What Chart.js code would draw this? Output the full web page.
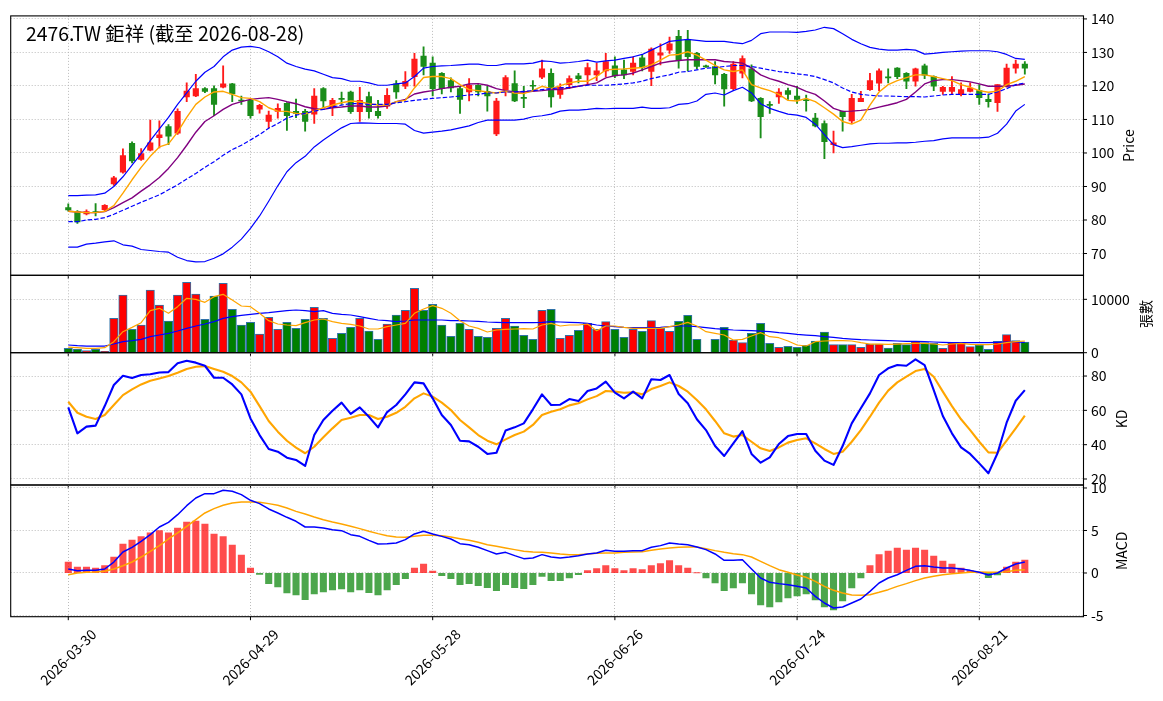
<!DOCTYPE html>
<html>
<head>
<meta charset="utf-8">
<title>2476.TW 鉅祥</title>
<script src="https://cdn.jsdelivr.net/npm/chart.js@4.4.1/dist/chart.umd.min.js"></script>
<style>
  html, body { margin: 0; padding: 0; background: #fff; }
  #wrap { position: relative; width: 1163px; height: 701px; overflow: hidden; }
  #wrap canvas { position: absolute; left: 0; top: 0; }
</style>
</head>
<body>
<div id="wrap">
  <canvas id="price-chart" width="1163" height="701"></canvas>
  <canvas id="volume-chart" width="1163" height="701"></canvas>
  <canvas id="kd-chart" width="1163" height="701"></canvas>
  <canvas id="macd-chart" width="1163" height="701"></canvas>
</div>
<script>
// x axis: one slot per trading day, labels every 20 bars
const tickIdx = [0, 20, 40, 60, 80, 100];
const tickLabels = ["2026-03-30", "2026-04-29", "2026-05-28", "2026-06-26", "2026-07-24", "2026-08-21"];

const openP = [83.7, 82.5, 81.8, 82.5, 83.1, 90.8, 94.3, 102.9, 98.1, 100.8,
  104.6, 107.9, 105.9, 116.7, 117.0, 119.2, 119.2, 119.6, 120.6, 115.8,
  115.7, 113.1, 109.4, 112.4, 114.8, 112.4, 112.4, 111.6, 119.2, 113.8,
  116.3, 118.2, 112.3, 116.8, 112.4, 114.0, 120.6, 119.9, 122.8, 128.9,
  126.8, 123.8, 121.6, 119.2, 118.2, 120.2, 118.4, 105.7, 118.9, 120.7,
  116.6, 120.1, 122.6, 123.8, 117.5, 120.4, 123.0, 123.3, 123.3, 124.5,
  126.0, 124.8, 124.3, 128.4, 124.3, 129.2, 130.7, 134.8, 133.9, 129.7,
  125.9, 125.8, 123.5, 119.2, 123.8, 125.1, 116.3, 114.4, 116.7, 118.6,
  117.0, 115.8, 110.4, 108.8, 102.5, 112.4, 109.6, 115.3, 118.9, 120.8,
  122.6, 125.3, 123.8, 121.4, 126.0, 122.8, 118.4, 118.4, 117.5, 118.4,
  118.6, 116.0, 115.0, 119.9, 125.3, 126.5];
const highP = [84.8, 82.8, 83.0, 84.9, 84.6, 93.0, 101.2, 103.3, 101.3, 109.8,
  109.6, 108.5, 113.2, 120.9, 123.5, 119.5, 120.0, 126.0, 120.8, 117.0,
  116.0, 114.5, 112.5, 114.7, 115.0, 116.1, 113.0, 119.2, 119.5, 116.3,
  118.2, 118.5, 119.6, 118.2, 115.7, 119.2, 121.6, 124.3, 129.7, 131.7,
  128.7, 124.0, 122.4, 119.9, 122.2, 120.4, 119.9, 116.3, 123.1, 124.5,
  119.9, 121.6, 127.7, 125.1, 120.6, 123.0, 123.8, 126.8, 126.8, 129.7,
  128.7, 127.7, 128.7, 129.4, 131.4, 132.6, 134.6, 136.6, 136.6, 130.0,
  126.2, 127.3, 123.8, 127.3, 129.0, 126.3, 116.5, 115.3, 119.2, 119.4,
  119.9, 117.3, 111.8, 109.6, 106.5, 112.5, 117.5, 118.4, 123.8, 125.1,
  125.1, 125.5, 124.0, 125.3, 126.5, 123.0, 119.9, 122.8, 120.9, 120.9,
  120.4, 117.6, 120.4, 126.5, 127.7, 127.3];
const lowP = [82.6, 79.0, 81.5, 81.2, 82.8, 90.3, 94.0, 97.0, 97.8, 100.6,
  101.5, 102.5, 105.5, 115.3, 116.8, 118.0, 111.1, 119.4, 115.3, 114.5,
  110.4, 111.9, 107.5, 110.4, 106.7, 110.5, 106.5, 108.8, 113.5, 111.1,
  114.5, 111.8, 109.4, 110.4, 110.4, 113.3, 116.3, 119.2, 119.9, 123.3,
  117.0, 117.6, 118.2, 111.8, 115.5, 117.0, 112.5, 105.2, 117.0, 115.3,
  113.5, 118.4, 122.2, 113.7, 116.3, 119.2, 120.9, 120.4, 121.6, 122.8,
  122.5, 122.2, 123.3, 124.5, 120.1, 126.3, 129.7, 125.3, 124.5, 125.1,
  125.5, 120.6, 114.0, 118.8, 122.4, 115.3, 104.5, 111.8, 114.8, 116.0,
  114.8, 112.5, 107.8, 98.3, 100.0, 106.5, 108.8, 115.3, 118.7, 118.6,
  120.9, 122.2, 119.2, 119.9, 122.2, 118.6, 117.5, 117.5, 117.0, 118.2,
  114.5, 113.7, 112.4, 119.6, 123.8, 123.5];
const closeP = [83.0, 79.4, 82.5, 82.2, 84.4, 92.6, 99.2, 97.6, 99.8, 103.0,
  105.4, 105.0, 112.4, 118.5, 119.2, 118.4, 114.5, 120.6, 117.6, 115.5,
  111.1, 114.2, 111.3, 113.3, 111.1, 111.8, 109.4, 117.0, 115.5, 115.7,
  116.0, 112.3, 115.7, 112.3, 111.1, 117.2, 118.2, 121.4, 128.0, 125.8,
  119.2, 119.2, 119.4, 116.0, 120.2, 118.2, 117.0, 115.5, 122.5, 115.5,
  116.3, 119.9, 125.1, 116.7, 119.6, 122.2, 122.2, 125.5, 124.5, 127.3,
  123.0, 123.3, 126.8, 125.5, 131.0, 129.9, 132.6, 127.7, 128.7, 125.8,
  125.7, 123.3, 119.1, 126.5, 128.2, 115.5, 110.8, 114.2, 118.2, 117.5,
  116.0, 115.6, 108.1, 103.4, 103.0, 110.8, 116.3, 116.3, 121.6, 124.5,
  122.4, 122.8, 121.4, 125.1, 123.2, 119.9, 119.6, 119.6, 118.9, 119.4,
  116.5, 115.3, 120.4, 125.3, 126.5, 125.3];

const ma5 = [82.6, 82.4, 82.2, 82.2, 82.6, 84.3, 88.0, 92.0, 95.7, 99.0,
  101.8, 102.7, 106.2, 110.6, 114.5, 116.7, 118.2, 118.4, 117.5, 116.5,
  116.3, 115.3, 113.5, 112.5, 112.4, 111.8, 111.7, 112.5, 113.5, 114.3,
  115.0, 115.5, 115.3, 114.7, 114.3, 114.3, 115.3, 115.7, 119.4, 122.5,
  122.8, 122.8, 122.2, 120.4, 118.9, 118.6, 118.2, 117.9, 118.4, 117.9,
  117.7, 118.6, 119.9, 119.2, 120.1, 120.9, 121.4, 121.4, 122.8, 124.8,
  125.0, 125.1, 125.3, 125.5, 126.3, 127.7, 129.2, 129.4, 130.2, 129.2,
  127.7, 126.1, 124.8, 124.3, 124.8, 120.4, 119.4, 118.6, 117.5, 115.7,
  115.5, 116.3, 115.3, 113.5, 111.6, 109.4, 108.6, 109.8, 114.3, 118.2,
  120.4, 121.6, 122.5, 123.3, 123.3, 122.8, 122.2, 121.6, 120.4, 119.6,
  118.6, 118.1, 118.4, 120.4, 121.4, 122.8];
const ma10 = [82.6, 82.4, 82.2, 82.2, 82.5, 83.7, 85.2, 86.6, 88.6, 90.5,
  92.7, 95.4, 98.6, 102.3, 106.2, 109.4, 111.1, 113.0, 114.5, 115.3,
  116.0, 116.3, 116.5, 116.0, 115.3, 114.7, 113.8, 113.2, 113.0, 113.5,
  113.7, 114.0, 114.0, 113.7, 113.7, 114.0, 115.3, 116.0, 117.6, 118.2,
  118.6, 119.2, 119.6, 119.9, 120.6, 120.7, 120.2, 119.2, 118.6, 118.2,
  118.2, 118.4, 118.6, 118.9, 118.9, 119.4, 119.9, 120.4, 120.9, 122.4,
  123.1, 123.3, 123.8, 124.8, 125.8, 126.8, 127.3, 127.6, 127.8, 127.8,
  127.8, 127.8, 127.3, 127.1, 126.8, 125.3, 123.3, 122.2, 121.4, 120.4,
  119.6, 118.4, 117.5, 115.5, 113.3, 112.4, 112.5, 112.7, 113.0, 113.7,
  114.3, 115.0, 116.0, 118.2, 120.6, 121.6, 121.9, 121.9, 121.6, 121.2,
  120.6, 119.9, 119.9, 119.9, 120.2, 120.6];
const bbUpper = [87.3, 87.3, 87.4, 87.5, 88.0, 90.0, 92.9, 96.4, 99.8, 103.7,
  107.2, 110.6, 114.5, 117.9, 121.4, 124.1, 125.8, 128.7, 130.7, 131.6,
  131.8, 131.4, 130.2, 128.7, 126.8, 125.8, 125.0, 124.5, 123.5, 122.5,
  122.2, 121.4, 121.4, 120.9, 120.2, 120.2, 120.6, 120.9, 122.8, 125.3,
  125.8, 126.0, 126.1, 126.3, 126.5, 126.5, 126.1, 126.1, 126.6, 126.6,
  126.6, 126.8, 127.5, 127.3, 126.8, 127.0, 127.3, 127.7, 127.1, 127.5,
  127.7, 128.2, 128.7, 129.4, 130.7, 132.0, 133.3, 133.6, 133.9, 133.6,
  133.3, 133.3, 133.3, 132.9, 132.6, 133.6, 135.6, 136.1, 136.1, 136.1,
  136.0, 136.3, 136.7, 137.5, 137.1, 135.6, 133.9, 132.6, 131.5, 131.0,
  130.7, 130.7, 130.9, 130.7, 129.5, 129.7, 130.0, 130.2, 130.4, 130.5,
  130.5, 130.5, 130.2, 129.4, 128.2, 127.9];
const bbMid = [79.5, 79.5, 80.0, 80.2, 80.7, 81.7, 82.9, 84.1, 85.3, 86.4,
  87.5, 89.0, 90.5, 92.2, 93.9, 95.7, 97.4, 99.3, 101.0, 102.3,
  103.9, 105.5, 107.4, 108.8, 110.4, 111.3, 111.8, 112.5, 113.0, 113.7,
  114.3, 114.7, 114.7, 114.5, 114.5, 114.5, 115.0, 115.3, 115.7, 116.0,
  116.3, 116.5, 116.7, 117.0, 117.3, 117.5, 117.9, 117.9, 118.2, 118.2,
  118.4, 118.6, 118.9, 119.2, 119.4, 119.6, 119.9, 120.2, 120.2, 120.2,
  120.4, 120.6, 120.9, 121.4, 122.2, 122.8, 123.3, 124.1, 124.3, 124.8,
  125.3, 125.5, 125.8, 126.1, 126.1, 125.8, 125.3, 124.8, 124.3, 124.0,
  123.6, 123.3, 122.8, 121.9, 120.9, 119.4, 118.2, 117.5, 117.2, 117.0,
  117.0, 116.9, 116.8, 116.8, 116.7, 117.0, 117.3, 117.5, 117.5, 117.5,
  117.5, 117.5, 118.2, 119.2, 120.4, 120.9];
const bbLower = [71.9, 71.9, 72.8, 73.1, 73.5, 73.8, 72.6, 72.2, 71.2, 70.9,
  70.6, 70.4, 68.9, 67.9, 67.5, 67.6, 68.6, 69.9, 71.9, 74.3,
  77.5, 81.2, 85.6, 90.2, 94.4, 97.1, 99.0, 101.8, 103.9, 105.7,
  107.5, 108.8, 109.0, 108.9, 108.8, 108.8, 108.8, 108.6, 106.7, 105.9,
  106.2, 106.5, 106.9, 107.5, 108.1, 109.1, 109.8, 109.8, 109.8, 109.8,
  110.1, 110.8, 111.1, 111.6, 112.5, 112.8, 112.8, 113.0, 113.3, 113.2,
  113.3, 113.3, 113.3, 113.7, 113.3, 113.3, 113.5, 114.5, 114.7, 115.5,
  117.5, 117.9, 117.3, 118.6, 119.6, 117.9, 114.7, 113.3, 112.4, 111.6,
  111.3, 110.6, 108.6, 105.5, 102.5, 101.6, 101.9, 102.3, 102.7, 102.9,
  102.9, 103.0, 103.0, 103.2, 103.5, 103.7, 104.2, 104.5, 104.5, 104.5,
  104.5, 104.7, 105.9, 108.6, 112.5, 114.5];

const volume = [810, 690, 375, 625, 250, 6440, 10810, 4375, 5190, 11750,
  8940, 5940, 10810, 13190, 11000, 6250, 10625, 13000, 8125, 5190,
  5690, 3500, 6625, 4375, 5690, 4560, 6250, 8500, 6440, 2690,
  3625, 4750, 6440, 4060, 2500, 5375, 7060, 7940, 12060, 7940,
  9060, 5190, 3060, 5500, 4375, 3060, 2875, 4560, 6440, 5000,
  3250, 2500, 7940, 8125, 2690, 3250, 4190, 5500, 4375, 5810,
  4375, 2875, 4375, 4000, 6000, 4560, 4000, 5875, 7000, 2500,
  0, 2500, 4750, 2375, 1875, 3625, 5500, 1750, 1000, 1190,
  1000, 1375, 2190, 3875, 1500, 1500, 1500, 1000, 1625, 1625,
  875, 1750, 1500, 2060, 1875, 1750, 810, 1875, 1875, 1125,
  1440, 625, 2125, 3375, 2250, 2000];
const volMa5 = [1060, 940, 810, 810, 940, 2060, 3940, 4750, 5625, 7875,
  8310, 7375, 8625, 10190, 10000, 9440, 10500, 10940, 9875, 8750,
  8625, 7375, 6000, 5375, 5190, 5060, 5625, 6125, 6310, 5810,
  5500, 5310, 5000, 4440, 4440, 4875, 5190, 5500, 7375, 8190,
  8810, 8310, 7375, 6000, 5000, 4560, 3875, 4250, 4375, 4440,
  4500, 4440, 5190, 5500, 5000, 5190, 5190, 5375, 4125, 5000,
  5000, 4750, 4560, 4560, 4560, 4560, 4875, 5190, 5690, 5000,
  3940, 3625, 3310, 2375, 2500, 3125, 3750, 3000, 2810, 2190,
  1440, 1250, 2060, 2190, 2250, 2250, 2190, 1875, 1625, 1625,
  1560, 1625, 1690, 1750, 1750, 1625, 1440, 1625, 1750, 1560,
  1500, 1500, 1625, 1875, 2060, 2190];
const volMa20 = [1440, 1310, 1250, 1250, 1250, 1625, 2060, 2250, 2500, 3000,
  3310, 3625, 4060, 4560, 5000, 5375, 5810, 6440, 6750, 7000,
  7190, 7375, 7500, 7690, 7875, 8000, 7875, 7690, 7875, 7375,
  7190, 7060, 6750, 6440, 6125, 6000, 5810, 5940, 6125, 6125,
  6125, 6125, 6000, 6000, 5940, 5875, 5750, 5690, 5625, 5625,
  5625, 5625, 5690, 5810, 5750, 5690, 5625, 5500, 5190, 5000,
  4875, 4750, 4690, 4690, 4690, 4750, 4875, 5000, 5000, 4875,
  4690, 4500, 4375, 4250, 4190, 4125, 4060, 3940, 3750, 3625,
  3440, 3310, 3190, 3000, 2875, 2690, 2560, 2440, 2375, 2310,
  2250, 2190, 2125, 2125, 2060, 2000, 1940, 1875, 1875, 1875,
  1875, 1875, 1940, 2000, 2000, 1940];

const kLine = [61.7, 46.6, 50.5, 51.1, 62.5, 74.8, 80.2, 78.8, 80.6, 81.0,
  82.1, 82.3, 87.4, 88.9, 87.8, 86.0, 79.0, 79.0, 75.1, 69.3,
  55.3, 45.6, 37.5, 35.9, 32.4, 31.1, 27.6, 45.6, 54.4, 59.8,
  64.5, 57.9, 61.7, 56.3, 50.1, 59.0, 63.1, 69.3, 76.3, 75.7,
  67.0, 57.3, 51.5, 42.3, 41.9, 38.8, 34.6, 35.3, 48.2, 50.1,
  52.4, 60.6, 69.3, 63.1, 63.3, 66.6, 65.4, 71.3, 72.8, 76.7,
  70.3, 67.0, 70.9, 67.0, 78.1, 77.7, 80.6, 69.5, 64.1, 54.8,
  48.5, 39.2, 33.4, 40.8, 47.9, 34.6, 29.5, 32.6, 40.4, 45.0,
  46.2, 46.2, 36.5, 30.7, 28.2, 39.2, 52.4, 61.2, 69.9, 80.6,
  84.5, 86.4, 86.0, 89.7, 86.4, 71.8, 56.7, 46.6, 38.4, 34.6,
  29.1, 23.3, 35.0, 52.8, 65.6, 71.8];
const dLine = [65.0, 58.6, 56.3, 55.0, 57.3, 63.1, 68.9, 72.2, 75.1, 77.3,
  78.6, 80.0, 81.9, 84.1, 85.4, 85.8, 84.1, 82.5, 80.0, 76.3,
  70.9, 62.5, 53.8, 47.6, 42.3, 38.3, 35.0, 38.8, 44.3, 49.5,
  54.4, 55.7, 57.3, 57.3, 55.0, 56.3, 58.6, 62.1, 67.0, 69.9,
  68.0, 64.5, 60.2, 54.4, 50.1, 45.6, 42.3, 40.2, 43.1, 45.6,
  47.6, 51.5, 57.3, 59.2, 60.6, 62.9, 64.1, 66.4, 68.3, 71.3,
  70.9, 70.3, 70.5, 69.3, 72.4, 74.2, 76.3, 74.2, 70.9, 66.0,
  60.6, 53.8, 46.6, 44.7, 45.6, 41.7, 37.9, 36.3, 38.4, 41.2,
  42.7, 43.7, 40.8, 37.5, 34.6, 35.9, 41.7, 48.5, 56.3, 64.5,
  71.5, 76.3, 79.6, 82.9, 84.1, 79.6, 70.9, 62.5, 54.8, 48.5,
  41.7, 35.5, 35.3, 42.3, 49.5, 56.9];

const dif = [0.47, 0.27, 0.31, 0.31, 0.47, 1.29, 2.47, 3.02, 3.73, 4.51,
  5.41, 5.96, 6.86, 7.92, 8.82, 9.33, 9.33, 9.73, 9.61, 9.22,
  8.55, 8.16, 7.53, 7.06, 6.55, 6.08, 5.41, 5.41, 5.29, 5.10,
  4.98, 4.51, 4.31, 3.84, 3.41, 3.45, 3.53, 3.92, 4.59, 4.90,
  4.59, 4.31, 4.00, 3.45, 3.33, 3.02, 2.63, 2.24, 2.43, 2.04,
  1.69, 1.76, 2.16, 1.88, 1.76, 1.88, 2.04, 2.24, 2.35, 2.67,
  2.55, 2.55, 2.63, 2.63, 3.02, 3.22, 3.53, 3.41, 3.33, 3.06,
  2.75, 2.24, 1.49, 1.49, 1.57, 0.47, -0.59, -1.10, -1.25, -1.37,
  -1.57, -1.76, -2.75, -3.53, -4.12, -4.00, -3.53, -3.06, -2.16, -1.18,
  -0.59, -0.20, 0.31, 0.78, 0.86, 0.71, 0.59, 0.59, 0.47, 0.31,
  0.08, -0.24, 0.00, 0.59, 1.06, 1.29];
const dea = [-0.20, 0.00, 0.08, 0.12, 0.20, 0.47, 0.86, 1.29, 1.88, 2.55,
  3.22, 4.00, 4.71, 5.49, 6.27, 7.06, 7.57, 7.96, 8.24, 8.35,
  8.35, 8.31, 8.16, 7.96, 7.65, 7.25, 6.94, 6.59, 6.27, 6.00,
  5.76, 5.49, 5.22, 4.90, 4.63, 4.39, 4.24, 4.20, 4.31, 4.43,
  4.43, 4.39, 4.24, 4.04, 3.84, 3.61, 3.33, 3.14, 2.94, 2.75,
  2.55, 2.47, 2.43, 2.35, 2.24, 2.16, 2.16, 2.24, 2.31, 2.35,
  2.35, 2.43, 2.47, 2.51, 2.67, 2.82, 2.94, 3.02, 3.06, 3.06,
  2.86, 2.63, 2.43, 2.27, 2.16, 1.88, 1.37, 0.86, 0.39, 0.08,
  -0.24, -0.51, -0.98, -1.57, -2.04, -2.35, -2.59, -2.63, -2.55, -2.27,
  -1.96, -1.57, -1.25, -0.90, -0.59, -0.39, -0.20, -0.08, 0.00, 0.08,
  0.12, 0.08, 0.08, 0.16, 0.31, 0.39];
const macdHist = [1.29, 0.71, 0.71, 0.59, 0.86, 1.88, 3.41, 3.88, 4.27, 4.71,
  4.98, 4.71, 5.29, 6.00, 6.12, 5.76, 4.59, 4.27, 3.29, 2.12,
  0.59, -0.16, -1.25, -1.65, -2.35, -2.59, -3.14, -2.47, -2.24, -2.00,
  -1.88, -2.24, -2.00, -2.31, -2.59, -2.00, -1.37, -0.67, 0.59, 1.06,
  0.24, -0.31, -0.67, -1.37, -1.25, -1.49, -1.73, -2.08, -1.37, -1.73,
  -1.84, -1.37, -0.39, -0.90, -0.90, -0.57, -0.20, 0.27, 0.51, 0.86,
  0.51, 0.27, 0.51, 0.39, 0.86, 1.10, 1.45, 0.86, 0.59, 0.02,
  -0.59, -1.18, -2.08, -1.76, -1.18, -2.47, -3.76, -4.00, -3.41, -2.94,
  -2.71, -2.47, -3.18, -4.00, -4.35, -3.29, -1.76, -0.59, 0.86, 2.16,
  2.59, 2.94, 2.71, 2.94, 2.71, 2.00, 1.41, 1.06, 0.59, 0.27,
  0.00, -0.55, -0.24, 0.71, 1.29, 1.53];

const priceTicks = [70, 80, 90, 100, 110, 120, 130, 140];
const volumeTicks = [0, 10000];
const kdTicks = [20, 40, 60, 80];
const macdTicks = [-5, 0, 5, 10];

// layout of the page
const FONT = "'Noto Sans CJK TC', 'Noto Sans CJK SC', 'Noto Sans', sans-serif";
const PAGE_W = 1163;
const PAGE_H = 701;
const PLOT_LEFT = 10.7;
const PLOT_RIGHT = 1083.5;
const X_MIN = -6.32;
const X_MAX = 111.44;
const GRID = "#b4b4b4";
const UP = "#ff1a1a";
const DOWN = "#1a8d1a";

function pts(values) {
  return values.map((y, i) => ({ x: i, y }));
}

function lineSet(values, color, width, extra) {
  return Object.assign({
    type: "line",
    data: pts(values),
    borderColor: color,
    borderWidth: width,
    pointRadius: 0,
    tension: 0,
    fill: false,
    borderJoinStyle: "round",
    order: 0,
  }, extra || {});
}

const candleColors = closeP.map((c, i) => (c >= openP[i] ? UP : DOWN));

const decor = {
  id: "decor",
  afterDraw(chart, args, opts) {
    const { ctx, chartArea: a } = chart;
    const xs = chart.scales.x;
    const ys = chart.scales.y;
    ctx.save();
    ctx.strokeStyle = "#000";
    ctx.lineWidth = 1.1;
    ctx.strokeRect(a.left, a.top, a.right - a.left, a.bottom - a.top);

    ctx.lineWidth = 1;
    ctx.beginPath();
    for (const t of ys.ticks) {
      const py = ys.getPixelForValue(t.value);
      ctx.moveTo(a.right, py);
      ctx.lineTo(a.right + 3.5, py);
    }
    for (const v of tickIdx) {
      const px = xs.getPixelForValue(v);
      ctx.moveTo(px, a.bottom);
      ctx.lineTo(px, a.bottom + 3.5);
    }
    ctx.stroke();

    ctx.fillStyle = "#000";
    ctx.font = `14px ${FONT}`;
    ctx.textAlign = "center";
    ctx.textBaseline = "middle";
    ctx.save();
    ctx.translate(opts.labelX, (a.top + a.bottom) / 2);
    ctx.rotate(-Math.PI / 2);
    ctx.fillText(opts.label, 0, 0);
    ctx.restore();

    if (opts.dates) {
      tickIdx.forEach((v, i) => {
        ctx.save();
        ctx.translate(xs.getPixelForValue(v), a.bottom + 40.5);
        ctx.rotate(-Math.PI / 4);
        ctx.fillText(tickLabels[i], 0, 0);
        ctx.restore();
      });
    }

    if (opts.heading) {
      ctx.font = `19.4px ${FONT}`;
      ctx.textAlign = "left";
      ctx.textBaseline = "alphabetic";
      ctx.fillText(opts.heading, 26, 40.5);
    }
    ctx.restore();
  },
};

function makePanel(id, top, bottom, datasets, yMin, yMax, yTicks, decorOpts) {
  return new Chart(document.getElementById(id), {
    type: "bar",
    data: { datasets },
    options: {
      responsive: false,
      animation: false,
      events: [],
      layout: { padding: { left: PLOT_LEFT, right: 0, top, bottom: PAGE_H - bottom } },
      plugins: {
        legend: { display: false },
        tooltip: { enabled: false },
        decor: decorOpts,
      },
      scales: {
        x: {
          type: "linear",
          min: X_MIN,
          max: X_MAX,
          offset: false,
          grid: { offset: false, color: GRID, lineWidth: 0.9, drawTicks: false },
          border: { display: false, dash: [1, 2] },
          ticks: { display: false },
          afterBuildTicks(s) { s.ticks = tickIdx.map((v) => ({ value: v })); },
          afterFit(s) { s.height = 0; },
        },
        y: {
          type: "linear",
          position: "right",
          min: yMin,
          max: yMax,
          grid: { color: GRID, lineWidth: 0.9, drawTicks: false },
          border: { display: false, dash: [1, 2] },
          ticks: {
            color: "#000",
            font: { family: FONT, size: 14 },
            padding: 7.5,
            callback: (v) => String(v),
          },
          afterBuildTicks(s) { s.ticks = yTicks.map((v) => ({ value: v })); },
          afterFit(s) { s.width = PAGE_W - PLOT_RIGHT; },
        },
      },
    },
    plugins: [decor],
  });
}

function draw() {
  makePanel("price-chart", 12.3, 275.3, [
    lineSet(bbUpper, "#0000ff", 1.2),
    lineSet(bbLower, "#0000ff", 1.2),
    lineSet(bbMid, "#0000ff", 1.2, { borderDash: [4.5, 2] }),
    lineSet(ma5, "#ffa500", 1.4),
    lineSet(ma10, "#800080", 1.4),
    {
      type: "bar",
      data: openP.map((o, i) => ({ x: i, y: [o, closeP[i]] })),
      backgroundColor: candleColors,
      barThickness: 5.5,
      minBarLength: 1,
      grouped: false,
      order: 1,
    },
    {
      type: "bar",
      data: lowP.map((l, i) => ({ x: i, y: [l, highP[i]] })),
      backgroundColor: candleColors,
      barThickness: 1.2,
      grouped: false,
      order: 2,
    },
  ], 63.5, 140.9, priceTicks, { label: "Price", labelX: 1129, heading: "2476.TW 鉅祥 (截至 2026-08-28)" });

  makePanel("volume-chart", 275.3, 352.7, [
    lineSet(volMa5, "#ffa500", 1.2),
    lineSet(volMa20, "#0000ff", 1.2),
    {
      type: "bar",
      data: pts(volume),
      backgroundColor: closeP.map((c, i) => (c >= openP[i] ? "#ff0000" : "#008000")),
      borderColor: "#2f72a8",
      borderWidth: 1,
      barThickness: 8.4,
      grouped: false,
      order: 2,
    },
  ], 0, 14500, volumeTicks, { label: "張數", labelX: 1146 });

  makePanel("kd-chart", 352.7, 485, [
    lineSet(kLine, "#0000ff", 2.1),
    lineSet(dLine, "#ffa500", 2.1),
  ], 16.5, 93.6, kdTicks, { label: "KD", labelX: 1121.5 });

  makePanel("macd-chart", 485, 616.7, [
    lineSet(dif, "#0000ff", 1.5),
    lineSet(dea, "#ffa500", 1.5),
    {
      type: "bar",
      data: pts(macdHist),
      backgroundColor: macdHist.map((v) => (v >= 0 ? "rgba(255,0,0,0.7)" : "rgba(0,128,0,0.7)")),
      barThickness: 6.4,
      grouped: false,
      order: 2,
    },
  ], -5.14, 10.35, macdTicks, { label: "MACD", labelX: 1121.5, dates: true });
}

document.fonts.ready.then(draw);
</script>
</body>
</html>
